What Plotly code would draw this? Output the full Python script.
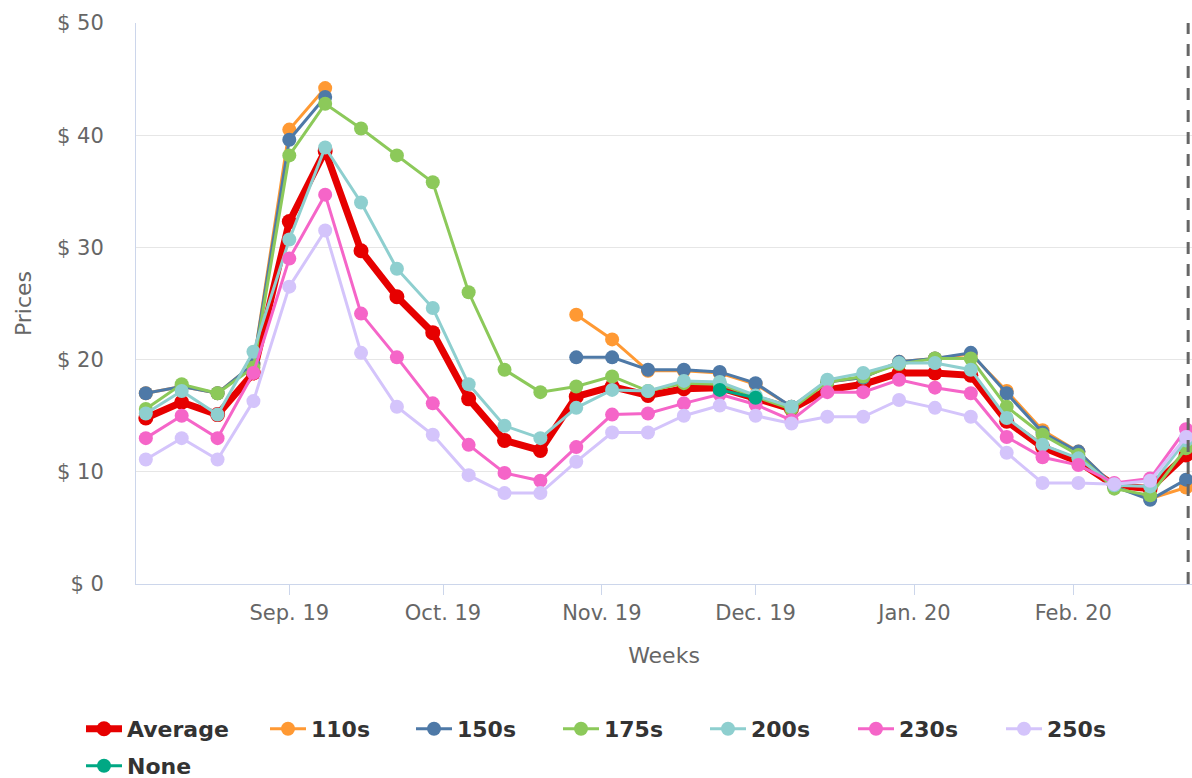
import plotly.graph_objects as go

weeks = [
    "2019-08-04", "2019-08-11", "2019-08-18", "2019-08-25", "2019-09-01",
    "2019-09-08", "2019-09-15", "2019-09-22", "2019-09-29", "2019-10-06",
    "2019-10-13", "2019-10-20", "2019-10-27", "2019-11-03", "2019-11-10",
    "2019-11-17", "2019-11-24", "2019-12-01", "2019-12-08", "2019-12-15",
    "2019-12-22", "2019-12-29", "2020-01-05", "2020-01-12", "2020-01-19",
    "2020-01-26", "2020-02-02", "2020-02-09", "2020-02-16", "2020-02-23",
]

average = [14.8, 16.2, 15.1, 18.8, 32.3, 38.6, 29.7, 25.6, 22.4, 16.5,
           12.8, 11.9, 16.7, 17.6, 16.8, 17.4, 17.5, 16.5, 15.6, 17.3,
           17.8, 18.8, 18.8, 18.6, 14.5, 12.2, 10.9, 8.8, 8.5, 11.5]
s110 = [17.0, 17.6, 17.0, 19.6, 40.5, 44.2, None, None, None, None,
        None, None, 24.0, 21.8, 19.0, 19.0, 18.8, 17.8, 15.8, 18.0,
        18.4, 19.8, 20.1, 20.5, 17.2, 13.7, 11.8, 8.7, 7.6, 8.6]
s150 = [17.0, 17.6, 17.0, 19.6, 39.6, 43.4, None, None, None, None,
        None, None, 20.2, 20.2, 19.1, 19.1, 18.9, 17.9, 15.8, 18.0,
        18.4, 19.8, 20.1, 20.6, 17.0, 13.5, 11.8, 8.7, 7.5, 9.3]
s175 = [15.6, 17.8, 17.0, 19.3, 38.2, 42.8, 40.6, 38.2, 35.8, 26.0,
        19.1, 17.1, 17.6, 18.5, 17.2, 17.9, 17.8, 16.7, 15.6, 18.0,
        18.5, 19.6, 20.1, 20.1, 15.8, 13.3, 11.5, 8.5, 7.9, 12.1]
s200 = [15.2, 17.2, 15.1, 20.7, 30.7, 38.9, 34.0, 28.1, 24.6, 17.8,
        14.1, 13.0, 15.7, 17.3, 17.2, 18.1, 18.0, 16.8, 15.8, 18.2,
        18.8, 19.7, 19.7, 19.1, 14.8, 12.4, 11.2, 8.8, 8.7, 12.8]
s230 = [13.0, 15.0, 13.0, 18.8, 29.0, 34.7, 24.1, 20.2, 16.1, 12.4,
        9.9, 9.2, 12.2, 15.1, 15.2, 16.1, 16.9, 16.0, 14.6, 17.1,
        17.1, 18.2, 17.5, 17.0, 13.1, 11.3, 10.6, 9.0, 9.4, 13.8]
s250 = [11.1, 13.0, 11.1, 16.3, 26.5, 31.5, 20.6, 15.8, 13.3, 9.7,
        8.1, 8.1, 10.9, 13.5, 13.5, 15.0, 15.9, 15.0, 14.3, 14.9,
        14.9, 16.4, 15.7, 14.9, 11.7, 9.0, 9.0, 8.9, 9.2, 13.1]
none_vals = [None] * 16 + [17.3, 16.6] + [None] * 12

current_week = "2020-02-23 10:00"

# name, values, color, line width, marker size, legend position (px, row)
series = [
    ("Average", average, "#e60000", 7, 15, 81, 0),
    ("110s", s110, "#ff9933", 3, 14, 265, 0),
    ("150s", s150, "#4e79a7", 3, 14, 411, 0),
    ("175s", s175, "#8cc95a", 3, 14, 558, 0),
    ("200s", s200, "#8ecfcf", 3, 14, 705, 0),
    ("230s", s230, "#f565c8", 3, 14, 853, 0),
    ("250s", s250, "#d4c4fb", 3, 14, 1001, 0),
    ("None", none_vals, "#00a884", 3, 14, 81, 1),
]

FIG_W, FIG_H = 1192, 778
font_family = "DejaVu Sans"
legend_font = dict(family=font_family, size=22, color="#333333", weight="bold")
row_tops = [708, 745]

fig = go.Figure()
legends = {}
for i, (name, vals, color, lw, ms, lx, row) in enumerate(series):
    key = "legend" if i == 0 else f"legend{i + 1}"
    fig.add_trace(go.Scatter(
        x=weeks, y=vals, name=name, mode="lines+markers",
        line=dict(color=color, width=lw),
        marker=dict(color=color, size=ms),
        connectgaps=False, legend=key,
    ))
    legends[key] = dict(
        orientation="h", xref="container", yref="container",
        x=lx / FIG_W, y=1 - row_tops[row] / FIG_H,
        xanchor="left", yanchor="top", itemwidth=36,
        font=legend_font, bgcolor="rgba(0,0,0,0)",
    )

fig.add_shape(type="line", xref="x", yref="paper", x0=current_week, x1=current_week,
              y0=0, y1=1, line=dict(color="#666666", width=3, dash="12px,10px"))

fig.update_layout(
    width=FIG_W, height=FIG_H,
    paper_bgcolor="white", plot_bgcolor="white",
    margin=dict(l=136, r=0, t=23, b=194),
    showlegend=True,
    xaxis=dict(
        type="date",
        range=["2019-08-02 02:00", "2020-02-24 04:00"],
        tickformat="%b. %y", dtick="M1", tick0="2019-09-01",
        ticks="outside", ticklen=10, tickcolor="#ccd6eb",
        showline=True, linecolor="#ccd6eb", linewidth=1,
        showgrid=False, zeroline=False, automargin=False,
        tickfont=dict(family=font_family, size=21, color="#666666"),
        title=dict(text="Weeks", font=dict(family=font_family, size=22, color="#666666"),
                   standoff=23),
    ),
    yaxis=dict(
        range=[0, 50], dtick=10, tickprefix="$ ",
        showgrid=True, gridcolor="#e6e6e6", gridwidth=1,
        showline=True, linecolor="#ccd6eb", linewidth=1,
        zeroline=False, automargin=False, ticks="",
        ticklabelstandoff=27,
        tickfont=dict(family=font_family, size=21, color="#666666"),
        title=dict(text="Prices", font=dict(family=font_family, size=22, color="#666666"),
                   standoff=19),
    ),
    **legends,
)

fig.write_html(
    "out.html",
    config={"displayModeBar": False},
    post_script="document.body.style.margin='0';document.body.style.overflow='hidden';",
)
